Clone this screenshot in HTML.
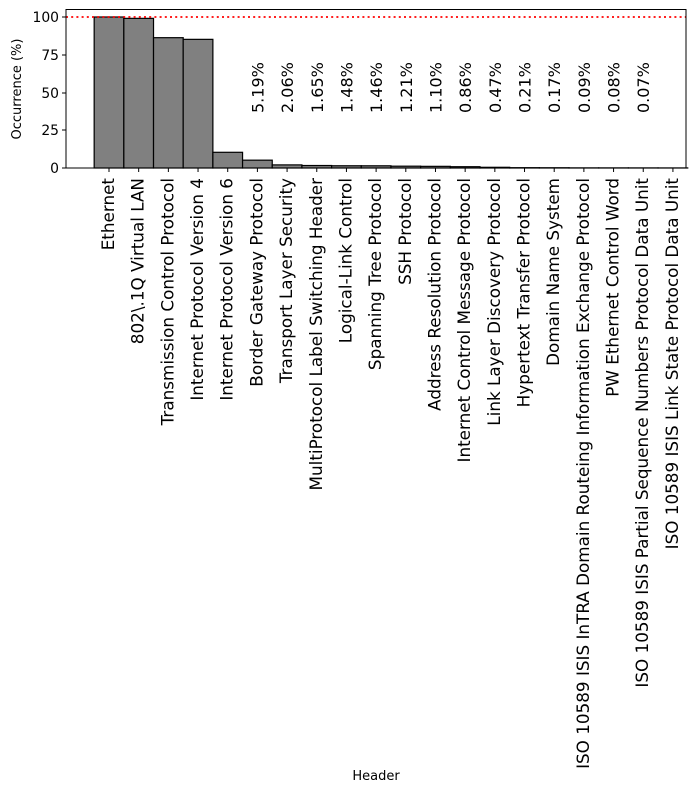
<!DOCTYPE html>
<html><head><meta charset="utf-8"><style>body{margin:0;background:#fff}svg{display:block}text{font-family:"DejaVu Sans","Liberation Sans",sans-serif;fill:#000}</style></head><body>
<svg width="695" height="792" xmlns="http://www.w3.org/2000/svg">
<g id="bars" fill="#808080" stroke="#000" stroke-width="1.2"></g>
<line x1="66" y1="17" x2="686" y2="17" stroke="red" stroke-width="1.8" stroke-dasharray="2,3.2"/>
<rect x="66" y="9.5" width="620" height="158.5" fill="none" stroke="#000" stroke-width="1"/>
<g font-size="13.9" text-anchor="end">
<line x1="62" y1="17" x2="66" y2="17" stroke="#000"/><text x="59" y="22">100</text>
<line x1="62" y1="55" x2="66" y2="55" stroke="#000"/><text x="59" y="60">75</text>
<line x1="62" y1="93" x2="66" y2="93" stroke="#000"/><text x="59" y="98">50</text>
<line x1="62" y1="130" x2="66" y2="130" stroke="#000"/><text x="59" y="135">25</text>
<line x1="62" y1="168" x2="66" y2="168" stroke="#000"/><text x="59" y="173">0</text>
</g>
<text x="0" y="0" font-size="13" text-anchor="middle" transform="translate(21,89) rotate(-90)">Occurrence (%)</text>
<text x="376" y="780" font-size="13" text-anchor="middle">Header</text>
<g id="xl"></g>
<script>
var names=["Ethernet","802\\.1Q Virtual LAN","Transmission Control Protocol","Internet Protocol Version 4","Internet Protocol Version 6","Border Gateway Protocol","Transport Layer Security","MultiProtocol Label Switching Header","Logical-Link Control","Spanning Tree Protocol","SSH Protocol","Address Resolution Protocol","Internet Control Message Protocol","Link Layer Discovery Protocol","Hypertext Transfer Protocol","Domain Name System","ISO 10589 ISIS InTRA Domain Routeing Information Exchange Protocol","PW Ethernet Control Word","ISO 10589 ISIS Partial Sequence Numbers Protocol Data Unit","ISO 10589 ISIS Link State Protocol Data Unit"];
var vals=[100,99.1,86.3,85.2,10.4,5.19,2.06,1.65,1.48,1.46,1.21,1.10,0.86,0.47,0.21,0.17,0.09,0.08,0.07,0.05];
var ns="http://www.w3.org/2000/svg",b=document.getElementById("bars"),xl=document.getElementById("xl");
for(var i=0;i<20;i++){var cx=109+i*29.68,h=vals[i]*1.51;
var r=document.createElementNS(ns,"rect");r.setAttribute("x",cx-14.84);r.setAttribute("y",168-h);r.setAttribute("width",29.68);r.setAttribute("height",h);b.appendChild(r);
var l=document.createElementNS(ns,"line");l.setAttribute("x1",cx);l.setAttribute("x2",cx);l.setAttribute("y1",168);l.setAttribute("y2",172);l.setAttribute("stroke","#000");xl.appendChild(l);
var t=document.createElementNS(ns,"text");t.setAttribute("font-size","16.8");t.setAttribute("text-anchor","end");t.setAttribute("transform","translate("+(cx+5)+",178) rotate(-90)");t.textContent=names[i];xl.appendChild(t);
if(i>=5&&i<=18){var a=document.createElementNS(ns,"text");a.setAttribute("font-size","16");a.setAttribute("text-anchor","start");a.setAttribute("transform","translate("+(cx+6)+",113) rotate(-90)");a.textContent=vals[i].toFixed(2)+"%";xl.appendChild(a);}}
</script>
</svg></body></html>
